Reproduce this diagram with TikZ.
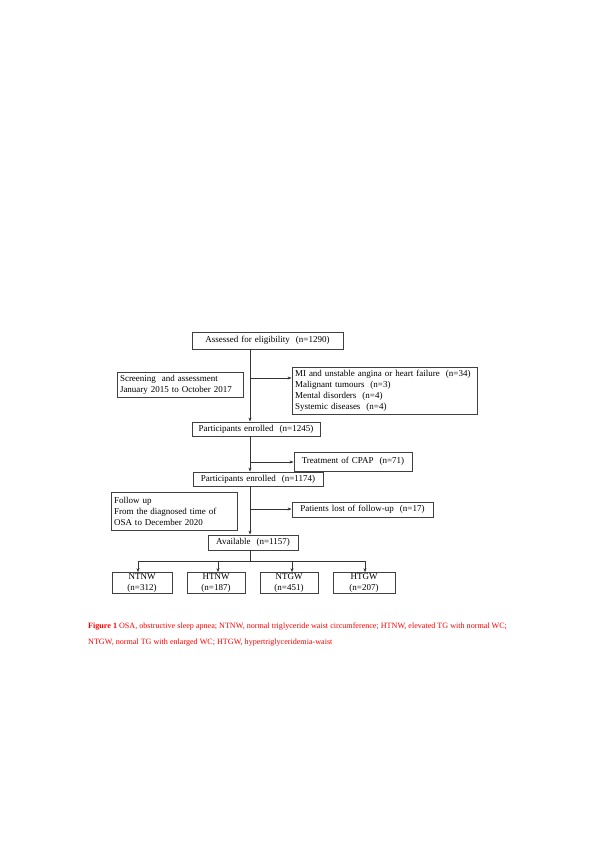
\documentclass[tikz,border=0pt]{standalone}
\usepackage{fontspec}
\setmainfont{Liberation Serif}
\usetikzlibrary{arrows.meta}
\tikzset{
box/.style={draw=black!75, line width=0.8pt, inner xsep=3pt, inner ysep=1pt, font=\fontsize{9}{11}\selectfont},
arr/.style={-{Stealth[length=4pt,width=3pt]}, line width=0.7pt, black!80},
ln/.style={line width=0.7pt, black!80}
}
% box by its corners: name, x1, y1, x2, y2, alignment, text
\newcommand{\flowbox}[7]{
\pgfmathsetmacro{\bw}{#4-#2}
\pgfmathsetmacro{\bh}{#5-#3}
\pgfmathsetmacro{\tw}{#4-#2-6}
\node[box, align=#6, text width=\tw pt, minimum width=\bw pt, minimum height=\bh pt] (#1) at ({(#2+#4)/2},{(#3+#5)/2}) {#7};
}

\begin{document}
\begin{tikzpicture}[x=1pt,y=-1pt]
\useasboundingbox (0,0) rectangle (595,842);

\coordinate (spine) at (250,0);

\flowbox{assess}{192}{332}{343}{349}{center}{Assessed for eligibility\ \ (n=1290)}
\flowbox{screen}{117}{372}{243}{397}{left}{Screening\ \ and assessment\\January 2015 to October 2017}
\flowbox{excl}{292}{367}{477}{414}{left}{MI and unstable angina or heart failure\ \ (n=34)\\Malignant tumours\ \ (n=3)\\Mental disorders\ \ (n=4)\\Systemic diseases\ \ (n=4)}

\flowbox{enrA}{192}{422}{320}{436}{center}{Participants enrolled\ \ (n=1245)}
\flowbox{cpap}{294}{452}{412}{471}{center}{Treatment of CPAP\ \ (n=71)}

\flowbox{enrB}{193}{472}{323}{486}{center}{Participants enrolled\ \ (n=1174)}
\flowbox{follow}{111}{492}{237}{530}{left}{Follow up\\From the diagnosed time of\\OSA to December 2020}
\flowbox{lost}{292}{502}{433}{517}{center}{Patients lost of follow-up\ \ (n=17)}

\flowbox{avail}{208}{535}{298}{550}{center}{Available\ \ (n=1157)}

\flowbox{ntnw}{112}{573}{172}{593}{center}{NTNW\\(n=312)}
\flowbox{htnw}{187}{573}{245}{593}{center}{HTNW\\(n=187)}
\flowbox{ntgw}{260}{573}{318}{593}{center}{NTGW\\(n=451)}
\flowbox{htgw}{333}{573}{395}{593}{center}{HTGW\\(n=207)}

% main line
\coordinate (bA) at (250,378);
\coordinate (bB) at (250,462);
\coordinate (bC) at (250,509);
\coordinate (bus) at (250,561);

\draw[arr] (assess.south -| spine) -- (enrA.north -| spine);
\draw[arr] (bA) -- (bA -| excl.west);

\draw[arr] (enrA.south -| spine) -- (enrB.north -| spine);
\draw[arr] (bB) -- (bB -| cpap.west);

\draw[arr] (enrB.south -| spine) -- (avail.north -| spine);
\draw[arr] (bC) -- (bC -| lost.west);

\draw[ln] (avail.south -| spine) -- (bus);
\draw[ln] (bus -| 138,0) -- (bus -| 365,0);
\foreach \g/\x in {ntnw/138,htnw/218,ntgw/292,htgw/365}
  \draw[arr] (bus -| \x,0) -- (\g.north -| \x,0);

\node[anchor=north west, inner sep=0pt, align=left, text=red, font=\fontsize{8.1}{15.5}\selectfont] (caption) at (88,623)
{\textbf{Figure 1} OSA, obstructive sleep apnea; NTNW, normal triglyceride waist circumference; HTNW, elevated TG with normal WC;\\
NTGW, normal TG with enlarged WC; HTGW, hypertriglyceridemia-waist};

\end{tikzpicture}
\end{document}
